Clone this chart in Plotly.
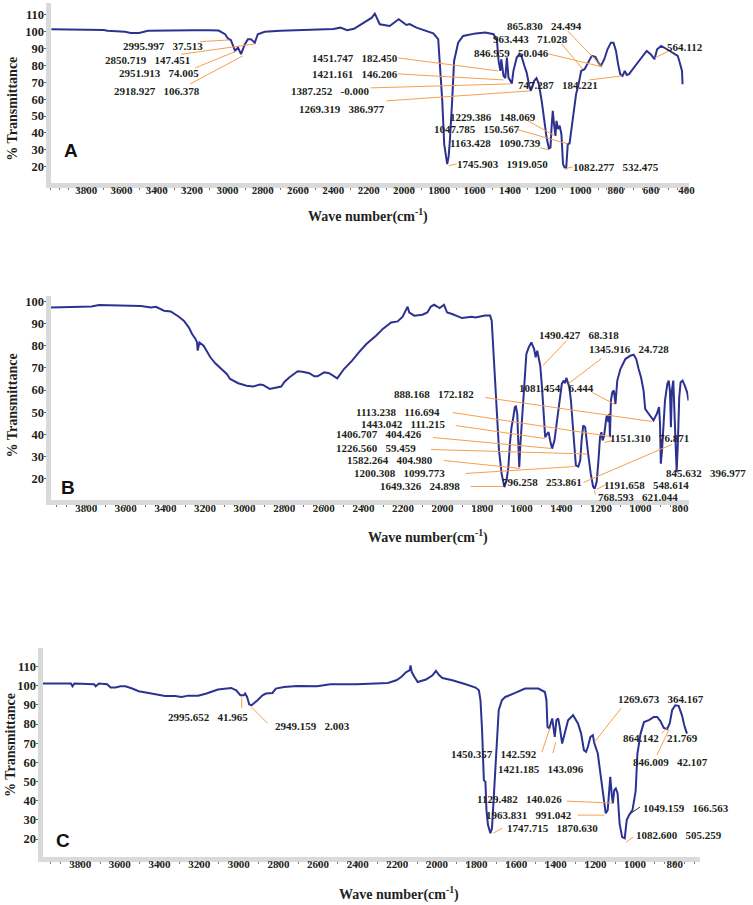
import plotly.graph_objects as go

W, H = 753, 905

# ---------------- data: (wave number cm-1, % transmittance) ----------------
spec_A = [(3997, 101.5), (3900, 101.4), (3830, 100.9), (3780, 101.2), (3700, 101.0), (3680, 100.6),
          (3650, 100.3), (3580, 100.0), (3548, 99.2), (3520, 99.0), (3500, 99.2), (3450, 100.6),
          (3350, 100.8), (3200, 100.8), (3100, 100.8), (3050, 100.7), (3013, 98.5), (2997, 96.0),
          (2980, 95.0), (2957, 88.6), (2940, 90.6), (2923, 86.7), (2901, 92.6), (2884, 95.6),
          (2867, 95.6), (2845, 93.5), (2828, 98.5), (2789, 100.0), (2700, 100.5), (2600, 100.8),
          (2500, 101.0), (2400, 101.6), (2360, 102.4), (2322, 100.9), (2283, 101.7), (2227, 105.4),
          (2182, 108.3), (2165, 110.7), (2137, 104.4), (2081, 103.4), (2030, 107.4), (1986, 104.0),
          (1968, 104.5), (1929, 102.4), (1834, 99.0), (1806, 95.6), (1794, 78.7), (1783, 59.0),
          (1772, 33.4), (1763, 27.0), (1755, 21.6), (1747, 26.0), (1740, 35.4), (1727, 59.0),
          (1716, 82.7), (1693, 93.5), (1665, 97.5), (1594, 99.0), (1539, 99.5), (1492, 98.5),
          (1473, 94.6), (1464, 82.7), (1454, 76.8), (1449, 83.7), (1441, 78.8), (1436, 73.8),
          (1426, 72.5), (1417, 84.7), (1408, 72.8), (1398, 70.9), (1389, 69.3), (1380, 76.8),
          (1370, 80.8), (1361, 84.7), (1346, 86.7), (1333, 85.1), (1318, 79.8), (1305, 75.8),
          (1292, 68.9), (1282, 65.0), (1273, 67.3), (1262, 70.9), (1249, 72.5), (1236, 68.9),
          (1220, 59.1), (1206, 47.2), (1192, 37.3), (1179, 30.8), (1170, 31.4), (1164, 43.3),
          (1157, 53.1), (1150, 45.3), (1142, 38.3), (1136, 47.2), (1127, 42.3), (1118, 44.3),
          (1108, 39.3), (1099, 21.6), (1090, 19.6), (1081, 19.2), (1072, 33.4), (1062, 33.8),
          (1049, 45.3), (1038, 53.1), (1025, 63.0), (1011, 68.9), (996, 76.8), (977, 77.8),
          (959, 81.7), (936, 85.7), (916, 85.1), (899, 81.7), (884, 79.8), (865, 83.7),
          (847, 89.6), (828, 93.5), (813, 93.5), (799, 88.6), (787, 80.8), (775, 74.9),
          (762, 73.8), (749, 76.8), (738, 74.4), (725, 74.9), (697, 78.8), (659, 83.7),
          (625, 88.6), (603, 86.7), (581, 83.7), (566, 89.6), (543, 91.6), (510, 89.6),
          (472, 87.0), (449, 85.7), (438, 81.7), (425, 76.8), (422, 68.9)]

spec_B = [(3980, 97.3), (3773, 97.7), (3735, 98.4), (3523, 97.9), (3473, 97.3), (3448, 97.6),
          (3407, 95.8), (3373, 95.5), (3332, 93.1), (3307, 91.3), (3282, 88.3), (3265, 85.3),
          (3248, 83.1), (3240, 81.5), (3237, 77.8), (3228, 81.5), (3207, 80.0), (3173, 74.8),
          (3148, 72.1), (3115, 69.5), (3090, 67.3), (3073, 65.0), (3032, 63.1), (2990, 62.0),
          (2957, 61.6), (2923, 62.5), (2907, 62.3), (2873, 60.5), (2840, 61.0), (2815, 61.6),
          (2798, 63.8), (2773, 65.8), (2732, 68.5), (2707, 68.3), (2673, 67.6), (2648, 66.2),
          (2632, 66.2), (2598, 68.0), (2573, 67.6), (2532, 65.3), (2498, 69.5), (2457, 73.3),
          (2423, 77.0), (2385, 80.8), (2335, 84.6), (2302, 87.6), (2260, 90.5), (2227, 91.0),
          (2202, 93.1), (2185, 96.6), (2177, 97.6), (2168, 95.0), (2143, 93.6), (2102, 94.0),
          (2077, 95.0), (2060, 97.6), (2043, 98.5), (2027, 97.7), (2015, 97.0), (1993, 98.5),
          (1977, 95.0), (1952, 94.3), (1902, 92.5), (1852, 93.1), (1835, 92.8), (1785, 93.6),
          (1760, 93.6), (1752, 91.3), (1744, 77.8), (1735, 62.8), (1727, 47.7), (1715, 32.7),
          (1702, 22.3), (1688, 16.2), (1677, 19.2), (1668, 25.2), (1660, 35.8), (1652, 43.2),
          (1643, 47.7), (1635, 52.3), (1630, 52.6), (1623, 49.3), (1618, 37.3), (1613, 25.2),
          (1607, 35.8), (1602, 43.2), (1593, 55.3), (1585, 67.3), (1577, 76.3), (1565, 79.3),
          (1552, 81.5), (1538, 78.6), (1530, 74.8), (1522, 77.8), (1515, 74.8), (1507, 71.0),
          (1498, 61.3), (1490, 50.8), (1482, 38.7), (1472, 40.3), (1465, 41.0), (1457, 37.3),
          (1447, 33.5), (1435, 37.3), (1422, 46.3), (1410, 56.8), (1398, 62.8), (1388, 64.3),
          (1382, 63.1), (1375, 65.5), (1368, 63.5), (1360, 61.3), (1352, 55.3), (1343, 43.2),
          (1335, 34.2), (1327, 26.0), (1315, 25.5), (1305, 28.2), (1298, 37.3), (1290, 44.0),
          (1280, 43.2), (1273, 35.8), (1265, 31.3), (1252, 22.3), (1240, 16.5), (1232, 15.5),
          (1222, 18.5), (1213, 28.2), (1205, 38.7), (1198, 41.0), (1192, 37.3), (1185, 39.0),
          (1173, 47.7), (1168, 48.5), (1163, 45.5), (1158, 49.3), (1155, 38.7), (1150, 55.3),
          (1143, 59.0), (1135, 59.8), (1127, 53.8), (1118, 64.3), (1102, 69.5), (1077, 74.0),
          (1052, 75.5), (1035, 76.0), (1022, 74.0), (1010, 69.5), (998, 65.8), (985, 59.8),
          (977, 51.5), (965, 50.0), (948, 47.7), (935, 46.3), (918, 49.3), (907, 52.3),
          (902, 44.8), (898, 26.8), (892, 32.7), (885, 41.8), (877, 55.3), (865, 62.8),
          (858, 64.3), (852, 59.8), (847, 43.2), (842, 59.8), (835, 64.3), (827, 44.8),
          (818, 23.0), (812, 35.8), (805, 56.8), (798, 63.5), (788, 64.3), (777, 62.0),
          (765, 59.0), (758, 55.3)]

spec_C = [(3989, 101.1), (3847, 101.1), (3839, 99.7), (3830, 101.1), (3730, 100.7), (3722, 99.7),
          (3705, 101.1), (3664, 100.7), (3647, 99.0), (3622, 99.0), (3597, 99.7), (3572, 99.7),
          (3538, 98.5), (3505, 97.1), (3455, 96.2), (3405, 95.0), (3372, 94.6), (3322, 94.6),
          (3288, 94.1), (3255, 94.8), (3205, 94.8), (3163, 95.9), (3138, 96.7), (3105, 98.0),
          (3038, 98.8), (3013, 97.6), (2992, 95.0), (2975, 95.0), (2968, 95.9), (2958, 94.1),
          (2947, 90.2), (2935, 89.8), (2922, 91.0), (2905, 92.4), (2880, 95.0), (2863, 95.9),
          (2830, 96.2), (2813, 98.5), (2772, 99.3), (2705, 99.8), (2605, 99.7), (2538, 100.7),
          (2405, 100.7), (2305, 101.1), (2247, 101.4), (2205, 102.8), (2180, 104.5), (2155, 107.1),
          (2138, 108.0), (2133, 110.6), (2127, 107.1), (2113, 104.5), (2097, 101.9), (2055, 103.2),
          (2022, 105.4), (2005, 107.7), (1988, 105.4), (1972, 104.0), (1922, 102.8), (1855, 100.7),
          (1805, 99.0), (1788, 97.6), (1780, 92.4), (1772, 76.8), (1763, 50.7), (1755, 49.8),
          (1750, 35.1), (1742, 27.3), (1730, 23.0), (1722, 25.6), (1713, 42.0), (1705, 57.7),
          (1697, 73.3), (1688, 87.2), (1672, 92.4), (1655, 94.1), (1605, 96.2), (1555, 98.5),
          (1488, 98.5), (1455, 96.7), (1447, 92.4), (1442, 78.5), (1433, 77.7), (1425, 81.1),
          (1418, 82.9), (1410, 76.8), (1405, 73.3), (1397, 82.0), (1388, 82.9), (1380, 78.5),
          (1368, 69.8), (1355, 75.0), (1338, 82.0), (1313, 84.6), (1288, 80.3), (1272, 75.0),
          (1258, 66.4), (1247, 65.5), (1238, 68.1), (1225, 73.3), (1213, 74.2), (1205, 69.8),
          (1188, 64.6), (1172, 52.0), (1155, 40.3), (1148, 33.4), (1138, 35.1), (1130, 43.8),
          (1125, 52.4), (1118, 43.8), (1112, 38.6), (1105, 45.5), (1097, 46.4), (1088, 43.8),
          (1078, 28.0), (1065, 21.0), (1052, 20.4), (1042, 29.9), (1030, 32.5), (1013, 35.1),
          (997, 45.0), (988, 64.6), (972, 75.0), (955, 81.0), (930, 82.0), (905, 83.7),
          (888, 83.7), (872, 81.5), (855, 78.0), (838, 77.4), (825, 80.3), (813, 87.2),
          (797, 89.8), (780, 89.5), (763, 84.5), (752, 79.5), (738, 75.0)]

xticks_A = [3800, 3600, 3400, 3200, 3000, 2800, 2600, 2400, 2200, 2000, 1800, 1600, 1400, 1200, 1000, 800, 600, 400]
xticks_B = [3800, 3600, 3400, 3200, 3000, 2800, 2600, 2400, 2200, 2000, 1800, 1600, 1400, 1200, 1000, 800]
xticks_C = [3800, 3600, 3400, 3200, 3000, 2800, 2600, 2400, 2200, 2000, 1800, 1600, 1400, 1200, 1000, 800]
yticks_A = [20, 30, 40, 50, 60, 70, 80, 90, 100, 110]
yticks_B = [20, 30, 40, 50, 60, 70, 80, 90, 100]
yticks_C = [20, 30, 40, 50, 60, 70, 80, 90, 100, 110]

S = "\u00a0\u00a0\u00a0"
peaks_A = [("2995.997" + S + "37.513", (165, 45), (202, 40.7), (231, 39)),
           ("2850.719" + S + "147.451", (149, 59), (183, 53.3), (257, 43)),
           ("2951.913" + S + "74.005", (160, 72), (197, 67), (239, 50)),
           ("2918.927" + S + "106.378", (158, 90), (192, 83), (245, 55)),
           ("1451.747" + S + "182.450", (358, 57), (402, 57), (503, 70)),
           ("1421.161" + S + "146.206", (358, 73), (402, 73), (508, 79)),
           ("1387.252" + S + "-0.000", (333, 90), (374, 87), (515, 83)),
           ("1269.319" + S + "386.977", (345, 108), (390, 100), (535, 90)),
           ("865.830" + S + "24.494", (550, 25), (573, 30), (607, 65)),
           ("963.443" + S + "71.028", (535, 38), (567, 43), (588, 68)),
           ("846.959" + S + "50.046", (516, 52), (554, 53), (608, 66)),
           ("747.287" + S + "184.221", (563, 84), (595, 79), (628, 75)),
           ("564.112", (691, 46), (675, 50), (661, 57)),
           ("1229.386" + S + "148.069", (498, 116), (533, 120), (560, 135)),
           ("1047.785" + S + "150.567", (481, 128), (523, 129), (573, 143)),
           ("1163.428" + S + "1090.739", (500, 142), (545, 147), (555, 149)),
           ("1745.903" + S + "1919.050", (507, 163), (453, 165), (461, 163)),
           ("1082.277" + S + "532.475", (622, 166), (570, 168), (578, 166))]

peaks_B = [("1490.427" + S + "68.318", (584, 334), (572, 340), (548, 365)),
           ("1345.916" + S + "24.728", (635, 348), (607, 358), (574, 383)),
           ("1081.454" + S + "6.444", (562, 387), (598, 392), (621, 404)),
           ("888.168" + S + "172.182", (438, 393), (490, 397), (658, 421)),
           ("1113.238" + S + "116.694", (402, 411), (457, 412), (616, 436)),
           ("1443.042" + S + "111.215", (407, 423), (460, 425), (550, 438)),
           ("1406.707" + S + "404.426", (383, 433), (437, 437), (557, 448)),
           ("1226.560" + S + "59.459", (380, 447), (435, 449), (593, 453.5)),
           ("1582.264" + S + "404.980", (394, 460), (448, 460), (525, 468)),
           ("1200.308" + S + "1099.773", (403, 473), (470, 473), (580, 466)),
           ("1649.326" + S + "24.898", (424, 486), (475, 486), (508, 486)),
           ("796.258" + S + "253.861", (547, 482), (589, 482), (678, 444)),
           ("1151.310" + S + "76.871", (656, 437), (618, 440), (610, 442)),
           ("845.632" + S + "396.977", (713, 473), None, None),
           ("1191.658" + S + "548.614", (653, 485), (612, 484), (602, 489)),
           ("768.593" + S + "621.044", (644, 497), (601, 494), (600, 490))]

peaks_C = [("2995.652" + S + "41.965", (210, 717), (244, 708), (244, 697)),
           ("2949.159" + S + "2.003", (315, 726), (270, 723), (253, 706)),
           ("1269.673" + S + "364.167", (667, 699), (627, 708), (600, 742)),
           ("1450.357" + S + "142.592", (499, 754), (547, 752), (555, 728)),
           ("1421.185" + S + "143.096", (546, 769), (558, 753), (561, 742)),
           ("864.142" + S + "21.769", (667, 738), (668, 733), (673, 728)),
           ("846.009" + S + "42.107", (677, 762), (663, 755), (675, 730)),
           ("1129.482" + S + "140.026", (524, 799), (572, 801), (619, 803)),
           ("1963.831" + S + "991.042", (534, 815), (583, 815), (610, 815)),
           ("1747.715" + S + "1870.630", (558, 828), (507, 828), (498, 833)),
           ("1049.159" + S + "166.563", (692, 808), (646, 807), (637, 813)),
           ("1082.600" + S + "505.259", (685, 835), (639, 837), (632, 842))]

# ---------------- layout (pixel boxes of each panel) ----------------
panels = [
    dict(spec=spec_A, xt=xticks_A, yt=yticks_A, box=(51, 695, 2, 182), xr=[4002, 388], yr=[10.5, 117.0],
         letter="A", letter_pos=(72, 150), ytitle=(13, 108), xtitle=(371, 215), peaks=peaks_A),
    dict(spec=spec_B, xt=xticks_B, yt=yticks_B, box=(51, 695, 295, 500), xr=[3980, 758], yr=[10.2, 102.6],
         letter="B", letter_pos=(69, 487), ytitle=(13, 405), xtitle=(432, 536), peaks=peaks_B),
    dict(spec=spec_C, xt=xticks_C, yt=yticks_C, box=(43, 707, 648, 857), xr=[3990, 670], yr=[10.6, 119.5],
         letter="C", letter_pos=(64, 840), ytitle=(10, 745), xtitle=(403, 893), peaks=peaks_C),
]

LINE = "#2D3290"
ORANGE = "#F5A04C"
TXT = "#231F20"
SERIF = "Liberation Serif"


def px(x, y):
    return x / W, 1 - y / H


fig = go.Figure()
annotations = []
shapes = []
layout_axes = {}

for i, p in enumerate(panels, start=1):
    suffix = "" if i == 1 else str(i)
    wn = [a for a, b in p["spec"]]
    tr = [b for a, b in p["spec"]]
    fig.add_trace(go.Scatter(x=wn, y=tr, mode="lines", line=dict(color=LINE, width=2),
                             xaxis="x" + suffix, yaxis="y" + suffix, showlegend=False,
                             hoverinfo="skip"))
    x0, x1, y0, y1 = p["box"]
    layout_axes["xaxis" + suffix] = dict(
        domain=[x0 / W, x1 / W], range=p["xr"], anchor="y" + suffix,
        tickvals=p["xt"], showgrid=False, zeroline=False,
        showline=True, linecolor="#DADADA", linewidth=5,
        ticks="outside", ticklen=3, tickwidth=1, tickcolor="#666",
        minor=dict(dtick=50, tick0=0, ticks="outside", ticklen=2, tickcolor="#777", tickwidth=1),
        tickfont=dict(family=SERIF, size=11, color=TXT, weight="bold"),
        ticklabelstandoff=-10,
    )
    layout_axes["yaxis" + suffix] = dict(
        domain=[1 - y1 / H, 1 - y0 / H], range=p["yr"], anchor="x" + suffix,
        tickvals=p["yt"], showgrid=False, zeroline=False,
        showline=True, linecolor="#DADADA", linewidth=5,
        ticks="outside", ticklen=2, tickwidth=1, tickcolor="#666",
        tickfont=dict(family=SERIF, size=12.5, color=TXT, weight="bold"),
        ticklabelstandoff=-3,
    )
    # panel letter
    lx, ly = px(*p["letter_pos"])
    annotations.append(dict(x=lx, y=ly, xref="paper", yref="paper", text=p["letter"], showarrow=False,
                            font=dict(family="Liberation Sans", size=19, color="#111", weight="bold"),
                            xanchor="center", yanchor="middle"))
    # axis titles
    tx, ty = px(*p["ytitle"])
    annotations.append(dict(x=tx, y=ty, xref="paper", yref="paper", text="% Transmittance",
                            showarrow=False, textangle=-90,
                            font=dict(family=SERIF, size=14, color=TXT, weight="bold"),
                            xanchor="center", yanchor="middle"))
    tx, ty = px(*p["xtitle"])
    annotations.append(dict(x=tx, y=ty, xref="paper", yref="paper", text="Wave number(cm<sup>-1</sup>)",
                            showarrow=False,
                            font=dict(family=SERIF, size=14, color=TXT, weight="bold"),
                            xanchor="center", yanchor="middle"))
    # peak labels with leader lines
    for text, c, a, b in p["peaks"]:
        cx, cy = px(*c)
        annotations.append(dict(x=cx, y=cy, xref="paper", yref="paper", text=text, showarrow=False,
                                font=dict(family=SERIF, size=11, color=TXT, weight="bold"),
                                xanchor="center", yanchor="middle"))
        if a is not None:
            ax_, ay_ = px(*a)
            bx_, by_ = px(*b)
            col = "#333333" if text.startswith("1049.159") else ORANGE
            shapes.append(dict(type="line", xref="paper", yref="paper", x0=ax_, y0=ay_, x1=bx_, y1=by_,
                               line=dict(color=col, width=1)))

fig.update_layout(width=W, height=H, margin=dict(l=0, r=0, t=0, b=0),
                  paper_bgcolor="white", plot_bgcolor="white",
                  annotations=annotations, shapes=shapes, **layout_axes)

fig.write_html("out.html", config={"displayModeBar": False},
               post_script="document.body.style.margin='0';document.body.style.overflow='hidden';")
